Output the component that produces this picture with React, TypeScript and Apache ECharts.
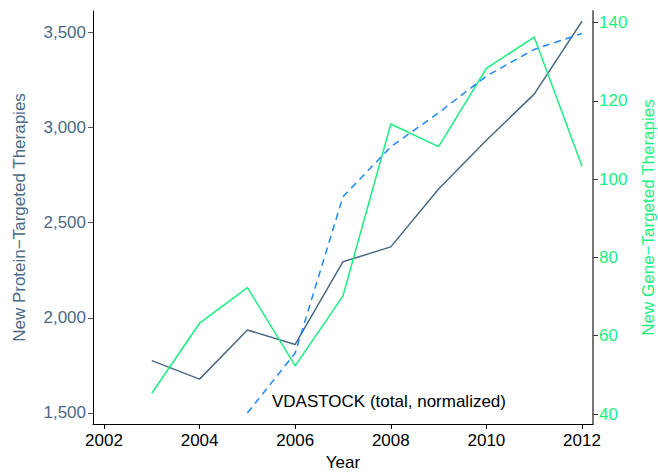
import React, { useEffect, useRef } from "react";
import * as echarts from "echarts";

const years = [2003, 2004, 2005, 2006, 2007, 2008, 2009, 2010, 2011, 2012];
const proteinTherapies = [1775, 1678, 1936, 1860, 2295, 2373, 2677, 2934, 3176, 3559];
const geneTherapies = [45.3, 63.2, 72.3, 52.3, 70.2, 114.1, 108.3, 128.3, 136.3, 103.3];
const vdaYears = [2005, 2006, 2007, 2008, 2009, 2010, 2011, 2012];
const vdaStock = [1500, 1815, 2637, 2899, 3078, 3271, 3411, 3495];
const xTicks = [2002, 2004, 2006, 2008, 2010, 2012];
const leftTicks = [1500, 2000, 2500, 3000, 3500];
const rightTicks = [40, 60, 80, 100, 120, 140];

const SLATE = "#4a6a84";
const GREEN = "#19f07f";
const BLUE = "#1e88ff";
const FONT = "Liberation Sans, Arial, sans-serif";
const FS = 17;

export default function App() {
  const ref = useRef<HTMLDivElement>(null);
  useEffect(() => {
    if (!ref.current) return;
    const chart = echarts.init(ref.current, null, { renderer: "svg" });
    chart.setOption({
      animation: false,
      textStyle: { fontFamily: FONT },
      grid: { left: 93, right: 65, top: 11, bottom: 48, outerBoundsMode: "none", containLabel: false },
      xAxis: {
        type: "value",
        min: 2001.77,
        max: 2012.23,
        name: "Year",
        nameLocation: "middle",
        nameGap: 28,
        nameTextStyle: { color: "#000", fontSize: FS, fontFamily: FONT },
        splitLine: { show: false },
        axisLine: { lineStyle: { color: "#000", width: 1 } },
        axisTick: { customValues: xTicks, length: 5, lineStyle: { color: "#000" } },
        axisLabel: {
          customValues: xTicks,
          color: "#000",
          fontSize: FS,
          margin: 8,
          fontFamily: FONT,
          formatter: (v: number) => String(v),
        },
      },
      yAxis: [
        {
          type: "value",
          min: 1442,
          max: 3613,
          position: "left",
          name: "New Protein\u2212Targeted Therapies",
          nameLocation: "middle",
          nameRotate: 90,
          nameGap: 65,
          nameTextStyle: { color: SLATE, fontSize: FS, fontFamily: FONT },
          splitLine: { show: false },
          axisLine: { show: true, lineStyle: { color: "#000", width: 1 } },
          axisTick: { show: true, customValues: leftTicks, length: 5, lineStyle: { color: "#555" } },
          axisLabel: {
            customValues: leftTicks,
            color: SLATE,
            fontSize: FS,
            margin: 7,
            fontFamily: FONT,
            formatter: (v: number) => v.toLocaleString("en-US"),
          },
        },
        {
          type: "value",
          min: 37.45,
          max: 142.96,
          position: "right",
          name: "New Gene\u2212Targeted Therapies",
          nameLocation: "middle",
          nameRotate: 90,
          nameGap: 47,
          nameTextStyle: { color: GREEN, fontSize: FS, fontFamily: FONT },
          splitLine: { show: false },
          axisLine: { show: true, lineStyle: { color: "#777", width: 2 } },
          axisTick: { show: true, customValues: rightTicks, length: 5, lineStyle: { color: "#333" } },
          axisLabel: {
            customValues: rightTicks,
            color: GREEN,
            fontSize: FS,
            margin: 6,
            fontFamily: FONT,
          },
        },
      ],
      series: [
        {
          type: "line",
          yAxisIndex: 0,
          data: years.map((y, i) => [y, proteinTherapies[i]]),
          showSymbol: false,
          lineStyle: { color: SLATE, width: 1.5 },
        },
        {
          type: "line",
          yAxisIndex: 1,
          data: years.map((y, i) => [y, geneTherapies[i]]),
          showSymbol: false,
          lineStyle: { color: GREEN, width: 1.5 },
        },
        {
          type: "line",
          yAxisIndex: 0,
          data: vdaYears.map((y, i) => [y, vdaStock[i]]),
          showSymbol: false,
          lineStyle: { color: BLUE, width: 1.5, type: [7, 5] },
        },
      ],
      graphic: [
        {
          type: "text",
          left: 272,
          top: 393,
          style: {
            text: "VDASTOCK (total, normalized)",
            fill: "#000",
            fontSize: FS,
            fontFamily: FONT,
          },
        },
      ],
    });
    return () => chart.dispose();
  }, []);
  return <div ref={ref} style={{ width: 658, height: 472, position: "absolute", left: 0, top: 0 }} />;
}
